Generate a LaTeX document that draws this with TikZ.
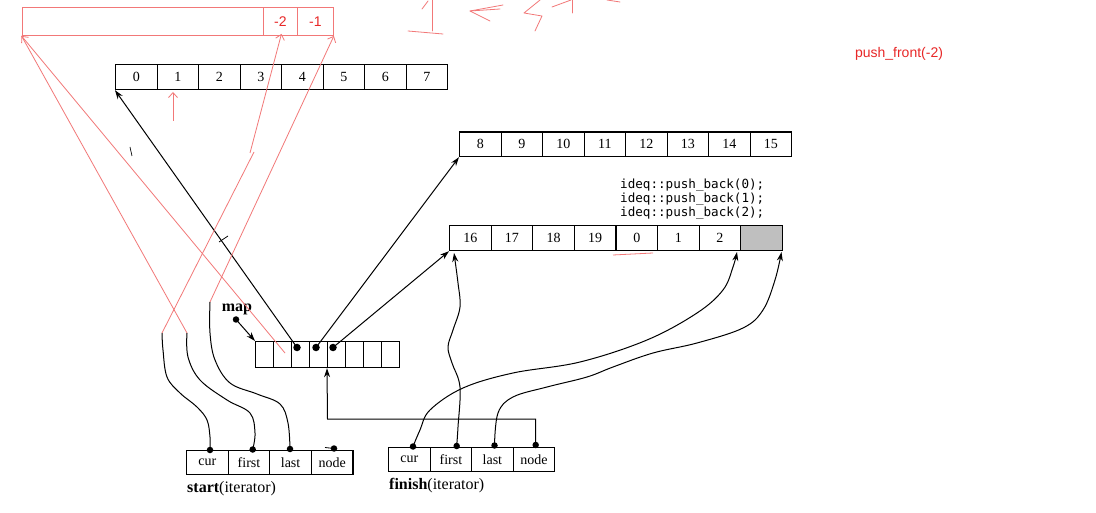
\documentclass[tikz,border=0pt]{standalone}
\usepackage{fontspec}
\setmainfont{Liberation Serif}
\newfontfamily\redsans{Liberation Sans}
\newfontfamily\monof{DejaVu Sans Mono}
\usetikzlibrary{arrows.meta}
\definecolor{penred}{RGB}{242,120,120}
\definecolor{txtred}{RGB}{232,40,40}
\tikzset{
  cellA/.style={draw, line width=1.2pt, minimum width=41.5pt, minimum height=25pt, inner sep=0pt, anchor=north west, font=\fontsize{14}{14}\selectfont},
  mcell/.style={draw, line width=1.2pt, minimum width=18pt, minimum height=26pt, inner sep=0pt, anchor=north west},
  icell/.style={draw, line width=1.2pt, minimum width=41.6pt, minimum height=23.5pt, inner sep=0pt, anchor=north west, font=\fontsize{14}{14}\selectfont},
  dotn/.style={circle, fill=black, inner sep=0pt, minimum size=7.5pt},
  sdot/.style={circle, fill=black, inner sep=0pt, minimum size=6.5pt},
  arr/.style={line width=1pt, -{Stealth[length=9pt,width=6pt]}},
  curve/.style={line width=1pt},
  rl/.style={draw=penred, line width=0.8pt},
  rarr/.style={rl, -{Straight Barb[length=5pt,width=9pt]}},
  rbox/.style={draw=penred, line width=0.9pt, inner sep=0pt, anchor=north west, minimum height=27.5pt, text=txtred, font=\redsans\fontsize{14}{14}\selectfont},
  lbl/.style={font=\fontsize{16}{16}\selectfont, anchor=west, inner sep=0pt}
}
\begin{document}
\begin{tikzpicture}[x=1pt,y=-1pt]
\useasboundingbox[fill=white] (0,0) rectangle (1096,513);

% red box at top
\node[rbox, minimum width=241.5pt] (R0) at (21.5,7.5) {};
\node[rbox, minimum width=34pt] (R1) at (263,7.5) {-2};
\node[rbox, minimum width=36pt] (R2) at (297,7.5) {-1};

% buffers
\foreach \i in {0,...,7} \node[cellA] (A\i) at ({115+41.5*\i},64) {\i};
\foreach \i/\t in {0/8,1/9,2/10,3/11,4/12,5/13,6/14,7/15} \node[cellA, minimum height=24.5pt] (B\i) at ({459+41.5*\i},131.5) {\t};
\foreach \i/\t in {0/16,1/17,2/18,3/19,4/0,5/1,6/2} \node[cellA] (C\i) at ({449+41.6*\i},225) {\t};
\node[cellA, fill=gray!50, minimum width=42pt] (C7) at (740,225) {};

% code text
\node[anchor=north west, inner sep=0pt, align=left, font=\monof\fontsize{12.6}{14}\selectfont] (code) at (620,179) {ideq::push\_back(0);\\ideq::push\_back(1);\\ideq::push\_back(2);};

% map
\foreach \i in {0,...,7} \node[mcell] (M\i) at ({255+18*\i},341) {};
\node[dotn] (d1) at (297,347.5) {};
\node[dotn] (d2) at (316,347.5) {};
\node[dotn] (d3) at (333,347.5) {};
\node[font=\bfseries\fontsize{16}{16}\selectfont, inner sep=0pt] (maplbl) at (237,309) {map};
\node[sdot] (mapdot) at (236,319.5) {};
\draw[arr] (mapdot.center) -- (M0.north west);
\draw[arr] (d1.center) -- (A0.south west);
\draw[arr] (d2.center) -- (B0.south west);
\draw[arr] (d3.center) -- (C0.south west);

% start iterator
\node[icell] (s0) at (186,450) {cur};
\node[icell] (s1) at (227.6,450) {first};
\node[icell] (s2) at (269.2,450) {last};
\node[icell] (s3) at (310.8,450) {node};
\node[lbl] (slbl) at (187,489) {\textbf{start}(iterator)};
\node[sdot] (sd0) at (210,450) {};
\node[sdot] (sd1) at (252.7,449.5) {};
\node[sdot] (sd2) at (290,449) {};
\node[sdot] (sd3) at (334,448.5) {};
\coordinate (snl) at (325,447.5);
\draw[line width=0.8pt] (snl) -- (sd3.center);

% finish iterator
\node[icell, minimum height=24pt] (f0) at (388,447) {cur};
\node[icell, minimum height=24pt] (f1) at (429.5,447) {first};
\node[icell, minimum height=24pt] (f2) at (471,447) {last};
\node[icell, minimum height=24pt] (f3) at (512.5,447) {node};
\node[lbl] (flbl) at (389,486) {\textbf{finish}(iterator)};
\node[sdot] (fd0) at (413,446.5) {};
\node[sdot] (fd1) at (456.7,446) {};
\node[sdot] (fd2) at (494.5,445.5) {};
\node[sdot] (fd3) at (535.7,445) {};

% start curves
\coordinate (sc) at (162,333);
\coordinate (sf) at (187,333);
\coordinate (sl) at (210,302);
\draw[curve] plot[smooth, tension=0.6] coordinates {(sc) (163,350) (167,377) (180,393) (197,407) (207,420) (210,437) (sd0.center)};
\draw[curve] plot[smooth, tension=0.6] coordinates {(sf) (188,357) (200,380) (227,400) (250,413) (255,433) (sd1.center)};
\draw[curve] plot[smooth, tension=0.6] coordinates {(sl) (210,333) (215,360) (230,383) (257,394) (280,404) (288,423) (sd2.center)};

% finish curves
\coordinate (t1) at (454,253);
\coordinate (t0) at (737,252);
\coordinate (t2) at (781.5,252);
\draw[arr] plot[smooth, tension=0.6] coordinates {(fd0.center) (420,430) (430,410) (463,388) (513,373) (580,362) (647,340) (697,313) (723,290) (733,267) (t0)};
\draw[arr] plot[smooth, tension=0.6] coordinates {(fd1.center) (458,427) (460,387) (452,363) (448,347) (453,330) (460,307) (458,283) (t1)};
\draw[arr] plot[smooth, tension=0.6] coordinates {(fd2.center) (498,413) (513,397) (547,387) (587,377) (613,367) (653,353) (697,343) (743,328) (763,310) (775,280) (t2)};
\coordinate (fm) at (327.5,419);
\draw[arr] (fd3.center) |- (fm) -- (M4.south west);

% scan marks
\draw[line width=0.7pt] (130,147) -- (132,156);
\draw[line width=0.7pt] (219,242) -- (228,236);

% red pen lines
\coordinate (m2) at (285,353);
\coordinate (k3) at (254,152);
\coordinate (k3b) at (250,153);
\draw[rl] (R0.south west) -- (sf);
\draw[rl, {Straight Barb[length=5pt,width=9pt]}-] (R0.south west) -- (m2);
\draw[rl] (sc) -- (k3);
\draw[rarr] (k3b) -- ([xshift=1pt,yshift=2pt]R1.south);
\draw[rarr] (sl) -- (R2.south east);
\coordinate (u1) at (173,121);
\coordinate (u1t) at (173,92);
\draw[rarr] (u1) -- (u1t);
\coordinate (ul1) at (613,255);
\coordinate (ul2) at (653,253);
\draw[rl] (ul1) -- (ul2);
% scribbles at top
\draw[rl, line cap=round, line join=round] (422,9) -- (428,1);
\draw[rl, line cap=round] (432,0) -- (432,31);
\draw[rl, line cap=round] (408,31) -- (443,34);
\draw[rl, line cap=round, line join=round] (503,5) -- (470,11) -- (490,21);
\draw[rl, line cap=round] (470,11) -- (500,9);
\draw[rl, line cap=round, line join=round] (540,0) -- (524,13) -- (542,16) -- (535,31);
\draw[rl, line cap=round] (552,7) -- (571,0);
\draw[rl, line cap=round] (572,0) -- (572,13);
\draw[rl, line cap=round] (607,0) -- (620,2);

% red text
\node[text=txtred, font=\redsans\fontsize{14}{14}\selectfont, inner sep=0pt] (pf) at (899,54) {push\_front(-2)};
\end{tikzpicture}
\end{document}
